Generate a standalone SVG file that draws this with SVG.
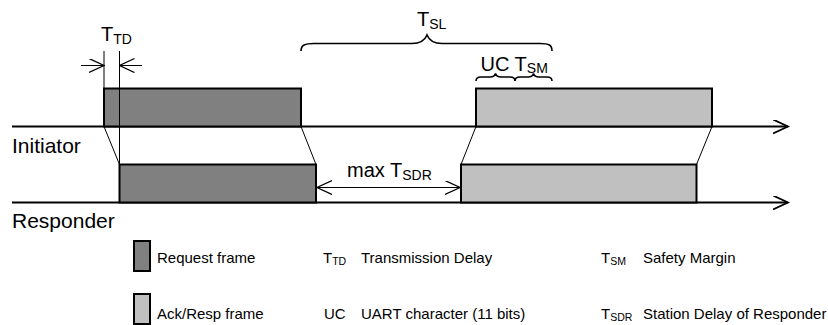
<svg xmlns="http://www.w3.org/2000/svg" width="828" height="325" viewBox="0 0 828 325">
  <style>
    text { font-family: "Liberation Sans", Arial, sans-serif; fill: #000; }
    .lbl { font-size: 20px; }
    .side { font-size: 21px; }
    .sub { font-size: 14px; }
    .leg { font-size: 15px; }
    .legsub { font-size: 10.5px; }
    .axis { stroke: #000; stroke-width: 2; fill: none; }
    .thin { stroke: #000; stroke-width: 1; fill: none; }
    .req { fill: #808080; stroke: #000; stroke-width: 2; }
    .ack { fill: #c0c0c0; stroke: #000; stroke-width: 2; }
    .brace { stroke: #000; stroke-width: 1.6; fill: none; }
  </style>
  <defs>
    <marker id="open" markerWidth="16" markerHeight="16" refX="15" refY="7" orient="auto-start-reverse" markerUnits="userSpaceOnUse">
      <path d="M0,0 L15,7 L0,14" fill="none" stroke="#000" stroke-width="1.3"/>
    </marker>
    <marker id="openAxis" markerWidth="18" markerHeight="16" refX="15" refY="7" orient="auto" markerUnits="userSpaceOnUse">
      <path d="M0,0 L15,7 L0,14" fill="none" stroke="#000" stroke-width="1.8"/>
    </marker>
  </defs>

  <!-- time axes -->
  <g id="axes">
    <line class="axis" x1="12" y1="126.5" x2="788" y2="126.5" marker-end="url(#openAxis)"/>
    <line class="axis" x1="12" y1="202.5" x2="788" y2="202.5" marker-end="url(#openAxis)"/>
    <text class="side" x="12" y="153">Initiator</text>
    <text class="side" x="12" y="228">Responder</text>
  </g>

  <!-- frames -->
  <g id="request-initiator"><rect class="req" x="104" y="88.5" width="197" height="38"/></g>
  <g id="request-responder"><rect class="req" x="119.5" y="164.5" width="196.5" height="38"/></g>
  <g id="ack-initiator"><rect class="ack" x="476" y="88.5" width="236" height="38"/></g>
  <g id="ack-responder"><rect class="ack" x="461" y="164.5" width="235.5" height="38"/></g>

  <!-- connectors: propagation edges, timing markers -->
  <g id="connectors">
    <line class="thin" x1="104" y1="126.5" x2="119.5" y2="164.5"/>
    <line class="thin" x1="301" y1="126.5" x2="316" y2="164.5"/>
    <line class="thin" x1="476" y1="126.5" x2="461" y2="164.5"/>
    <line class="thin" x1="712" y1="126.5" x2="696.5" y2="164.5"/>

    <!-- transmission delay markers -->
    <line class="thin" x1="104" y1="51" x2="104" y2="88"/>
    <line class="thin" x1="119.5" y1="51" x2="119.5" y2="164"/>
    <line class="thin" x1="81" y1="65.5" x2="104" y2="65.5" marker-end="url(#open)"/>
    <line class="thin" x1="142" y1="65.5" x2="119.5" y2="65.5" marker-end="url(#open)"/>

    <!-- station delay of responder -->
    <line class="thin" x1="317" y1="187.5" x2="460" y2="187.5" marker-start="url(#open)" marker-end="url(#open)"/>
  </g>

  <!-- braces -->
  <g id="brace-sl">
    <path class="brace" d="M301,51 C301,45 305,43.5 314,43.5 L412,43.5 C420,43.5 425,40 427,35 C429,40 434,43.5 442,43.5 L540,43.5 C549,43.5 552,45 552,51"/>
  </g>
  <g id="brace-uc">
    <path class="brace" d="M476,81 C476,78 477.5,77 481,77 L490,77 C493,77 495,75.5 495.5,73.5 C496,75.5 498,77 501,77 L510,77 C513.5,77 515,78 515,81"/>
  </g>
  <g id="brace-sm">
    <path class="brace" d="M515,81 C515,78 516.5,77 520,77 L528,77 C531,77 533,75.5 533.5,73.5 C534,75.5 536,77 539,77 L547,77 C550.5,77 552,78 552,81"/>
  </g>

  <!-- labels -->
  <g id="labels">
    <text class="lbl" x="101" y="41">T<tspan class="sub" dy="3">TD</tspan></text>
    <text class="lbl" x="417" y="26">T<tspan class="sub" dy="3">SL</tspan></text>
    <text class="lbl" x="480.5" y="70.5">UC T<tspan class="sub" dy="2.5">SM</tspan></text>
    <text class="lbl" x="347" y="177">max T<tspan class="sub" dy="3">SDR</tspan></text>
  </g>

  <!-- legend -->
  <g id="legend-request">
    <rect class="req" x="134" y="241" width="16" height="30" stroke-width="1.6"/>
    <text class="leg" x="157" y="263">Request frame</text>
  </g>
  <g id="legend-ack">
    <rect class="ack" x="134" y="294" width="16" height="30" stroke-width="1.6"/>
    <text class="leg" x="157" y="319">Ack/Resp frame</text>
  </g>
  <g id="legend-td">
    <text class="leg" x="323" y="263">T<tspan class="legsub" dy="1.5">TD</tspan></text>
    <text class="leg" x="361" y="263">Transmission Delay</text>
  </g>
  <g id="legend-uc">
    <text class="leg" x="324" y="319">UC</text>
    <text class="leg" x="361" y="319">UART character (11 bits)</text>
  </g>
  <g id="legend-sm">
    <text class="leg" x="601" y="263">T<tspan class="legsub" dy="1.5">SM</tspan></text>
    <text class="leg" x="643" y="263">Safety Margin</text>
  </g>
  <g id="legend-sdr">
    <text class="leg" x="601" y="319">T<tspan class="legsub" dy="1.5">SDR</tspan></text>
    <text class="leg" x="643" y="319">Station Delay of Responder</text>
  </g>
</svg>
